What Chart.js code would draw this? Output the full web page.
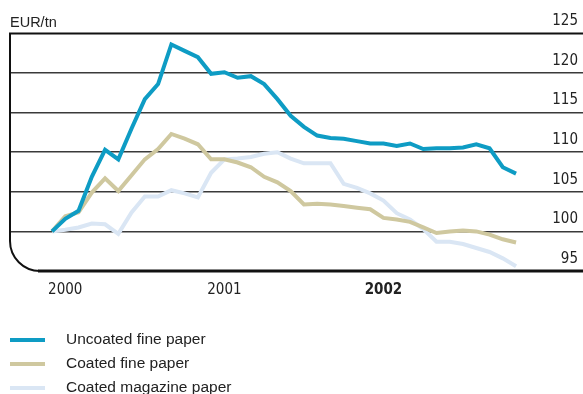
<!DOCTYPE html>
<html>
<head>
<meta charset="utf-8">
<script src="https://cdn.jsdelivr.net/npm/chart.js@4/dist/chart.umd.min.js"></script>
<style>
  html, body { margin: 0; padding: 0; background: #fff; }
  #wrap { width: 583px; height: 394px; position: relative; }
</style>
</head>
<body>
<div id="wrap"><canvas id="chartPaperPrices"></canvas></div>
<script>
// Monthly price index, Jan 2000 = 100
const years = ['2000', '2001', '2002'];
const monthNames = ['Jan', 'Feb', 'Mar', 'Apr', 'May', 'Jun', 'Jul', 'Aug', 'Sep', 'Oct', 'Nov', 'Dec'];
const months = years.flatMap(y => monthNames.map(m => m + ' ' + y));
const yTicks = [95, 100, 105, 110, 115, 120, 125];

const uncoatedFine = [100.0, 101.6, 102.6, 106.9, 110.3, 109.1, 113.0, 116.7, 118.6, 123.6,
  122.8, 122.0, 119.9, 120.1, 119.4, 119.6, 118.6, 116.7, 114.6, 113.2,
  112.1, 111.8, 111.7, 111.4, 111.1, 111.1, 110.8, 111.1, 110.4, 110.5,
  110.5, 110.6, 111.0, 110.5, 108.1, 107.3];
const coatedFine = [100.0, 101.9, 102.4, 104.9, 106.7, 105.1, 107.1, 109.1, 110.4, 112.3,
  111.7, 111.0, 109.1, 109.1, 108.7, 108.1, 106.9, 106.2, 105.1, 103.4,
  103.5, 103.4, 103.2, 103.0, 102.8, 101.7, 101.5, 101.2, 100.5, 99.8,
  100.0, 100.1, 100.0, 99.6, 99.0, 98.6];
const coatedMagazine = [100.0, 100.2, 100.5, 101.0, 100.9, 99.7, 102.4, 104.4, 104.4, 105.2,
  104.8, 104.3, 107.4, 109.1, 109.2, 109.4, 109.8, 110.0, 109.2, 108.6,
  108.6, 108.6, 106.0, 105.5, 104.8, 103.9, 102.3, 101.5, 100.3, 98.7,
  98.7, 98.4, 97.9, 97.4, 96.6, 95.6];

const narrow = '"DejaVu Sans Condensed", "Liberation Sans Narrow", sans-serif';
const toPoints = arr => arr.map((v, i) => ({ x: i, y: v }));

// Frame: top rule, left rule and rounded bottom-left corner
const framePlugin = {
  id: 'frame',
  beforeDatasetsDraw(chart) {
    const { ctx, chartArea: a } = chart;
    const r = 30;
    ctx.save();
    ctx.strokeStyle = '#111';
    ctx.lineWidth = 2;
    ctx.beginPath();
    ctx.moveTo(a.right, a.top);
    ctx.lineTo(a.left, a.top);
    ctx.lineTo(a.left, a.bottom - r);
    ctx.arcTo(a.left, a.bottom, a.left + r, a.bottom, r);
    ctx.lineTo(a.right, a.bottom);
    ctx.stroke();
    ctx.lineWidth = 3;
    ctx.beginPath();
    ctx.moveTo(a.left + r - 2, a.bottom);
    ctx.lineTo(a.right, a.bottom);
    ctx.stroke();
    ctx.restore();
  }
};

// Vertical legend under the chart
const legendPlugin = {
  id: 'stackedLegend',
  afterDraw(chart) {
    const { ctx } = chart;
    ctx.save();
    ctx.font = '15.5px "Liberation Sans", Arial, sans-serif';
    ctx.textBaseline = 'middle';
    chart.data.datasets.forEach((ds, i) => {
      const y = 340 + i * 24;
      ctx.strokeStyle = ds.borderColor;
      ctx.lineWidth = 4;
      ctx.beginPath();
      ctx.moveTo(10, y);
      ctx.lineTo(45, y);
      ctx.stroke();
      ctx.fillStyle = '#222';
      ctx.fillText(ds.label, 66, y);
    });
    ctx.restore();
  }
};

new Chart(document.getElementById('chartPaperPrices'), {
  type: 'line',
  data: {
    labels: months,
    datasets: [
      { label: 'Uncoated fine paper', data: toPoints(uncoatedFine), borderColor: '#0e9cc4' },
      { label: 'Coated fine paper', data: toPoints(coatedFine), borderColor: '#cfc89f' },
      { label: 'Coated magazine paper', data: toPoints(coatedMagazine), borderColor: '#dae6f4' }
    ].map(ds => Object.assign(ds, { borderWidth: 4, pointRadius: 0, tension: 0, fill: false }))
  },
  options: {
    responsive: true,
    maintainAspectRatio: false,
    animation: false,
    layout: { padding: { left: 10, right: 0, top: 0, bottom: 93 } },
    plugins: {
      legend: { display: false },
      tooltip: { enabled: false },
      title: {
        display: true,
        text: 'EUR/tn',
        align: 'start',
        color: '#222',
        font: { family: '"Liberation Sans", Arial, sans-serif', size: 14.5, weight: 'normal' },
        padding: { top: 14, bottom: 2 }
      }
    },
    scales: {
      x: {
        type: 'linear',
        min: -3.17,
        max: 40.05,
        afterBuildTicks: scale => {
          scale.ticks = years.map((y, k) => ({ value: k * 12 + 1 }));
        },
        grid: { display: false },
        border: { display: false },
        ticks: {
          padding: 2,
          color: '#222',
          maxRotation: 0,
          autoSkip: false,
          callback: v => years[Math.round((v - 1) / 12)],
          font: ctx => ({
            family: narrow,
            size: 15,
            weight: ctx.tick && ctx.tick.value === 25 ? 'bold' : 'normal'
          })
        }
      },
      y: {
        position: 'right',
        min: 95,
        max: 125,
        afterBuildTicks: scale => {
          scale.ticks = yTicks.map(v => ({ value: v }));
        },
        grid: {
          drawTicks: false,
          lineWidth: 1.5,
          color: ctx => (ctx.tick && (ctx.tick.value === 95 || ctx.tick.value === 125)) ? 'rgba(0,0,0,0)' : '#3a3a3a'
        },
        border: { display: false },
        ticks: {
          mirror: true,
          padding: -5,
          labelOffset: -12,
          color: '#222',
          font: { family: narrow, size: 15 }
        }
      }
    }
  },
  plugins: [framePlugin, legendPlugin]
});
</script>
</body>
</html>
